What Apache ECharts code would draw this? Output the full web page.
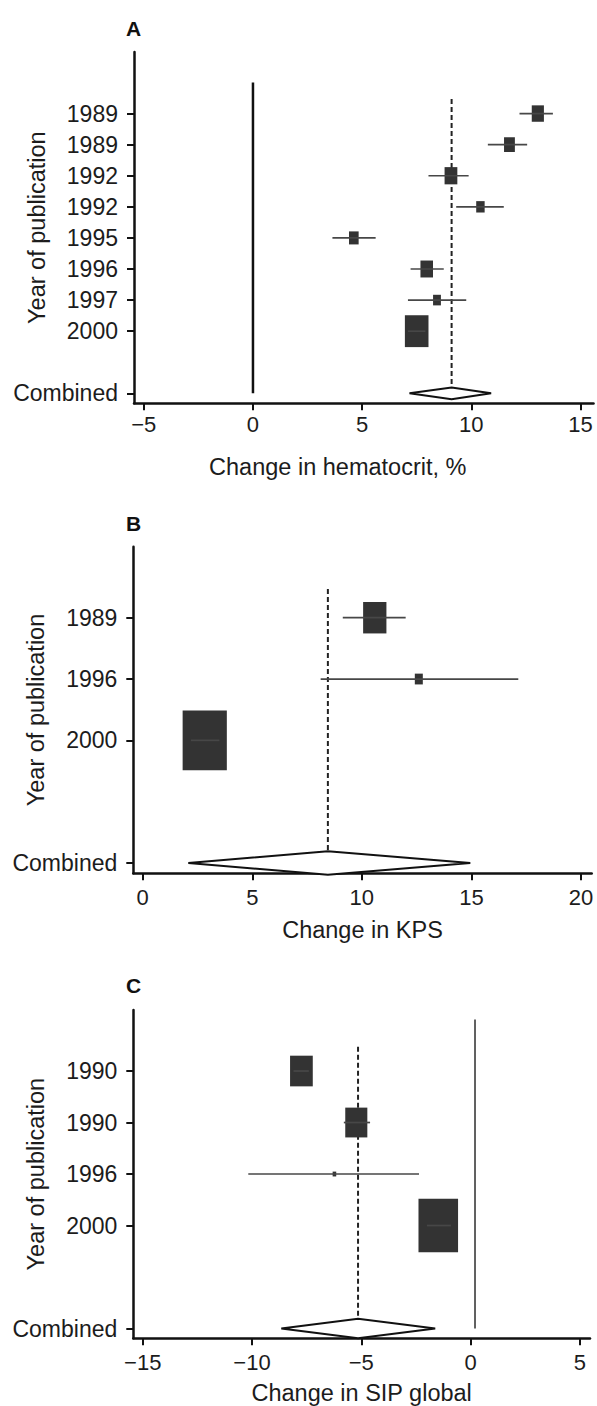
<!DOCTYPE html>
<html><head><meta charset="utf-8">
<script src="https://cdn.jsdelivr.net/npm/echarts@6/dist/echarts.min.js"></script>
<style>html,body{margin:0;padding:0;background:#fff}#c{width:597px;height:1406px}</style>
</head><body><div id="c"></div>
<script>
// ---------------- DATA ----------------
const comboLabel = 'Combined';
const yName = 'Year of publication';

// Panel A: hematocrit
const yearsA  = ['1989','1989','1992','1992','1995','1996','1997','2000'];
const estA    = [13.05, 11.75, 9.07, 10.42, 4.62, 7.96, 8.43, 7.5];
const lowA    = [12.21, 10.76, 8.04, 9.31, 3.64, 7.22, 7.1, 7.1];
const highA   = [13.74, 12.56, 9.88, 11.49, 5.62, 8.74, 9.77, 7.9];
const weightA = [10.8, 8.6, 11.9, 5.2, 6.8, 11.5, 4.5, 40.7];
const combA   = [7.17, 9.1, 10.91];   // low, estimate, high
const nullA   = 0;
const xTicksA = [-5, 0, 5, 10, 15];
const xTickLabelsA = ['\u22125', '0', '5', '10', '15'];
const xNameA  = 'Change in hematocrit, %';

// Panel B: KPS
const yearsB  = ['1989','1996','2000'];
const estB    = [10.59, 12.6, 2.83];
const lowB    = [9.13, 8.12, 2.2];
const highB   = [12.0, 17.14, 3.5];
const weightB = [21.2, 2.5, 76.3];
const combB   = [2.08, 8.45, 14.95];
const nullB   = null;
const xTicksB = [0, 5, 10, 15, 20];
const xTickLabelsB = ['0', '5', '10', '15', '20'];
const xNameB  = 'Change in KPS';

// Panel C: SIP global
const yearsC  = ['1990','1990','1996','2000'];
const estC    = [-7.74, -5.23, -6.23, -1.48];
const lowC    = [-8.1, -5.8, -10.17, -2.0];
const highC   = [-7.4, -4.6, -2.36, -0.9];
const weightC = [20.0, 18.9, 0.5, 60.7];
const combC   = [-8.66, -5.15, -1.62];
const nullC   = 0.2;
const xTicksC = [-15, -10, -5, 0, 5];
const xTickLabelsC = ['\u221215', '\u221210', '\u22125', '0', '5'];
const xNameC  = 'Change in SIP global';

const panelLetters = ['A', 'B', 'C'];

// ---------------- LAYOUT / STYLE ----------------
const FONT = '"Liberation Sans", Arial, Helvetica, sans-serif';
const TEXT = '#1c1c1c';
const AXIS = '#111';
const layouts = [
  {grid:{left:134, top:52, width:459.5, height:351.3}, x:[-5.45,15.6], y:[-0.98,10.32],
   box:3.70, nameGap:52, nameShift:52, labMargin:10, titleTop:18, nullW:2.5, nullC:'#111'},
  {grid:{left:133.3, top:546.7, width:458.4, height:326.6}, x:[-0.43,20.49], y:[-0.158,5.168],
   box:5.06, nameGap:45, nameShift:0, labMargin:13, titleTop:513, nullW:1.5, nullC:'#444'},
  {grid:{left:133.3, top:1010, width:456.7, height:328.3}, x:[-15.43,5.46], y:[-0.185,6.19],
   box:5.08, nameGap:43, nameShift:0, labMargin:13, titleTop:974.5, nullW:1.6, nullC:'#3a3a3a'}
];
const BOX_ASPECT = 1.35;
const DIAMOND_H = 0.19;
const DASH_TOP = 0.53;

const panels = [
  {years:yearsA, est:estA, low:lowA, high:highA, w:weightA, comb:combA, nullX:nullA, ticks:xTicksA, tickLabels:xTickLabelsA, xName:xNameA},
  {years:yearsB, est:estB, low:lowB, high:highB, w:weightB, comb:combB, nullX:nullB, ticks:xTicksB, tickLabels:xTickLabelsB, xName:xNameB},
  {years:yearsC, est:estC, low:lowC, high:highC, w:weightC, comb:combC, nullX:nullC, ticks:xTicksC, tickLabels:xTickLabelsC, xName:xNameC}
];

const grids = [], xAxes = [], yAxes = [], series = [], titles = [];

panels.forEach((p, k) => {
  const L = layouts[k];
  const n = p.years.length;
  const combRow = n + 2;
  const yTicks = p.years.map((_, i) => i + 1).concat([combRow]);
  const yLabels = p.years.concat([comboLabel]);

  grids.push(Object.assign({outerBoundsMode:'none', containLabel:false}, L.grid));
  titles.push({text:panelLetters[k], left:126, top:L.titleTop, padding:0,
    textStyle:{fontSize:21, fontWeight:'bold', color:'#111', fontFamily:FONT}});

  xAxes.push({
    gridIndex:k, type:'value', min:L.x[0], max:L.x[1], position:'bottom',
    axisLine:{show:true, onZero:false, lineStyle:{color:AXIS, width:2.5}},
    axisTick:{show:true, length:7, customValues:p.ticks, lineStyle:{color:AXIS, width:2}},
    axisLabel:{show:true, customValues:p.ticks, margin:L.labMargin, fontSize:22, color:TEXT, fontFamily:FONT,
      formatter:(v) => { const i = p.ticks.indexOf(v); return i >= 0 ? p.tickLabels[i] : ''; }},
    splitLine:{show:false},
    name:p.xName, nameLocation:'middle', nameGap:L.nameGap, nameMoveOverlap:false,
    nameTextStyle:{fontSize:23.5, color:TEXT, fontFamily:FONT, padding:[0, L.nameShift, 0, 0]}
  });
  yAxes.push({
    gridIndex:k, type:'value', inverse:true, min:L.y[0], max:L.y[1], position:'left',
    axisLine:{show:true, onZero:false, lineStyle:{color:AXIS, width:2.5}},
    axisTick:{show:true, length:7, customValues:yTicks, lineStyle:{color:AXIS, width:2}},
    axisLabel:{show:true, customValues:yTicks, margin:16, fontSize:23, color:TEXT, fontFamily:FONT,
      formatter:(v) => { const i = yTicks.indexOf(v); return i >= 0 ? yLabels[i] : ''; }},
    splitLine:{show:false},
    name:yName, nameLocation:'middle', nameGap:85, nameRotate:90, nameMoveOverlap:false,
    nameTextStyle:{fontSize:23.5, color:TEXT, fontFamily:FONT}
  });

  // reference lines
  const refData = [];
  if (p.nullX !== null) refData.push([p.nullX, 0, combRow, 0]);
  refData.push([p.comb[1], DASH_TOP, combRow, 1]);
  series.push({
    type:'custom', xAxisIndex:k, yAxisIndex:k, z:1, silent:true, clip:false,
    encode:{x:0, y:[1,2]}, data:refData,
    renderItem:(params, api) => {
      const x = api.value(0), a = api.coord([x, api.value(1)]), b = api.coord([x, api.value(2)]);
      const dashed = api.value(3) === 1;
      return {type:'line', shape:{x1:a[0], y1:a[1], x2:b[0], y2:b[1]},
        style:dashed ? {stroke:'#222', lineWidth:2, lineDash:[5,3]} : {stroke:L.nullC, lineWidth:L.nullW}};
    }
  });

  // studies
  const studyData = p.years.map((_, i) => [i + 1, p.low[i], p.est[i], p.high[i], p.w[i]]);
  series.push({
    type:'custom', xAxisIndex:k, yAxisIndex:k, z:2, silent:true, clip:false,
    encode:{x:[1,2,3], y:0}, data:studyData,
    renderItem:(params, api) => {
      const y = api.value(0);
      const pl = api.coord([api.value(1), y]), ph = api.coord([api.value(3), y]), pe = api.coord([api.value(2), y]);
      const bw = L.box * Math.sqrt(api.value(4)), bh = bw * BOX_ASPECT;
      return {type:'group', children:[
        {type:'rect', shape:{x:pe[0]-bw/2, y:pe[1]-bh/2, width:bw, height:bh}, style:{fill:'#333'}},
        {type:'line', shape:{x1:pl[0], y1:pl[1], x2:ph[0], y2:ph[1]}, style:{stroke:'#474747', lineWidth:1.7}}
      ]};
    }
  });

  // combined diamond
  series.push({
    type:'custom', xAxisIndex:k, yAxisIndex:k, z:3, silent:true, clip:false,
    encode:{x:[1,2,3], y:0}, data:[[combRow, p.comb[0], p.comb[1], p.comb[2]]],
    renderItem:(params, api) => {
      const y = api.value(0), lo = api.value(1), est = api.value(2), hi = api.value(3);
      const pts = [api.coord([lo, y]), api.coord([est, y - DIAMOND_H]), api.coord([hi, y]), api.coord([est, y + DIAMOND_H])];
      return {type:'polygon', shape:{points:pts}, style:{fill:'#fff', stroke:'#111', lineWidth:2}};
    }
  });
});

const chart = echarts.init(document.getElementById('c'), null, {renderer:'svg', width:597, height:1406});
chart.setOption({
  animation:false, backgroundColor:'#fff',
  title:titles, grid:grids, xAxis:xAxes, yAxis:yAxes, series:series, tooltip:{show:false}
});
</script>
</body></html>
